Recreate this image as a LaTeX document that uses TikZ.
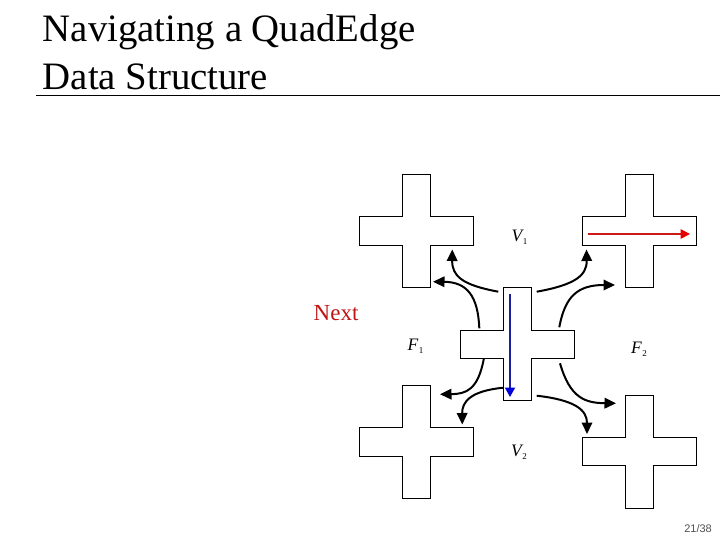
\documentclass[tikz,border=0pt]{standalone}
\usepackage{fontspec}
\setmainfont{Liberation Serif}
\newfontfamily\pagefont{Liberation Sans}
\usetikzlibrary{arrows.meta}
\definecolor{nextred}{RGB}{192,20,20}
\definecolor{arrred}{RGB}{205,25,25}
\definecolor{arrblue}{RGB}{30,30,160}
\definecolor{pagegray}{RGB}{80,80,80}
\tikzset{
  crossline/.style={draw=black, line width=0.9pt, fill=white},
  qcross/.pic={\path[crossline] (-14,-56.7) -- (14,-56.7) -- (14,-14.2) -- (56.7,-14.2) -- (56.7,14.2) -- (14,14.2) -- (14,56.7) -- (-14,56.7) -- (-14,14.2) -- (-56.7,14.2) -- (-56.7,-14.2) -- (-14,-14.2) -- cycle;},
  navarrow/.style={draw=black, line width=2pt, -{Triangle[length=11.5pt,width=10.5pt]}},
  redarrow/.style={draw=arrred, line width=1.8pt, -{Triangle[length=9.5pt,width=9.5pt,color=red!90!black]}},
  bluearrow/.style={draw=arrblue, line width=1.8pt, -{Triangle[length=9.5pt,width=10pt,color=blue!85!black]}},
  titletext/.style={anchor=base west, inner sep=0pt, font=\fontsize{38.8}{48}\selectfont},
  varlabel/.style={anchor=base west, inner sep=0pt, font=\fontsize{17.5}{17.5}\selectfont\itshape},
}
\newcommand{\subdig}[1]{\hspace{0.5pt}\raisebox{-3pt}{\upshape\fontsize{9}{9}\selectfont #1}}
\begin{document}
\begin{tikzpicture}[x=1pt,y=-1pt]
\useasboundingbox (0,0) rectangle (720,540);
% title
\node[titletext] (t1) at (42.7,41.7) {Navigating a QuadEdge};
\node[titletext] (t2) at (42.7,90) {Data Structure};
\coordinate (rl) at (36,95.7);
\coordinate (rr) at (720,95.7);
\draw[line width=0.9pt] (rl) -- (rr);
% crosses
\pic (tl) at (416.3,231) {qcross};
\pic (tr) at (639.3,231) {qcross};
\pic (cc) at (517.5,344.2) {qcross};
\pic (bl) at (416.3,442) {qcross};
\pic (br) at (639.3,451.7) {qcross};
% red and blue arrows
\coordinate (rs) at (588.3,234);
\coordinate (re) at (690,234);
\draw[redarrow] (rs) -- (re);
\coordinate (bs) at (510,294);
\coordinate (be) at (510,397);
\draw[bluearrow] (bs) -- (be);
% curved arrows
\coordinate (a1s) at (498.3,291.7); \coordinate (a1e) at (452.3,249.5);
\coordinate (a2s) at (479.3,328.3); \coordinate (a2e) at (433,281.7);
\coordinate (a3s) at (536.7,291.7); \coordinate (a3e) at (586.5,249.5);
\coordinate (a4s) at (559.3,327.3); \coordinate (a4e) at (615,285);
\coordinate (a5s) at (483.8,358.8); \coordinate (a5e) at (440,394.3);
\coordinate (a6s) at (503.3,387.7); \coordinate (a6e) at (462.3,424.5);
\coordinate (a7s) at (560,363.3);   \coordinate (a7e) at (616,403.3);
\coordinate (a8s) at (536.7,395.7); \coordinate (a8e) at (587,434);
\draw[navarrow] (a1s) .. controls (462,285) and (452,276) .. (a1e);
\draw[navarrow] (a2s) .. controls (478,296) and (467,282) .. (a2e);
\draw[navarrow] (a3s) .. controls (574,285) and (587,276) .. (a3e);
\draw[navarrow] (a4s) .. controls (565,296) and (578,285) .. (a4e);
\draw[navarrow] (a5s) .. controls (478,390) and (466,394) .. (a5e);
\draw[navarrow] (a6s) .. controls (470,391) and (462,402) .. (a6e);
\draw[navarrow] (a7s) .. controls (570,398) and (585,403) .. (a7e);
\draw[navarrow] (a8s) .. controls (575,400) and (587,410) .. (a8e);
% labels
\node[varlabel] (v1) at (511.5,241.7) {V\subdig{1}};
\node[varlabel] (f1) at (407.5,350) {F\subdig{1}};
\node[varlabel] (f2) at (631,353.5) {F\subdig{2}};
\node[varlabel] (v2) at (511,456.5) {V\subdig{2}};
\node[anchor=base west, inner sep=0pt, text=nextred, font=\fontsize{23}{23}\selectfont] (nx) at (313.5,320.5) {Next};
\node[anchor=base east, inner sep=0pt, text=pagegray, font=\pagefont\fontsize{11}{11}\selectfont] (pg) at (712,532) {21/38};
\end{tikzpicture}
\end{document}
